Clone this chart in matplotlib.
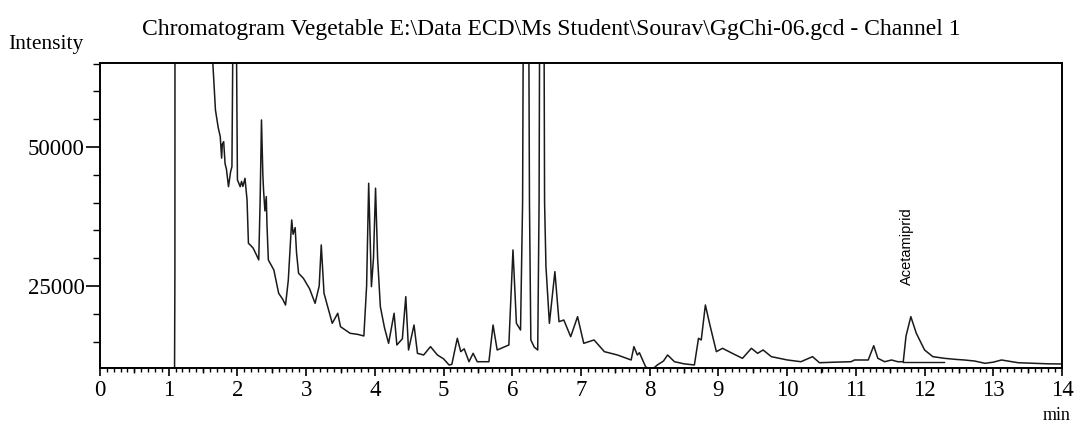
import numpy as np
import matplotlib
matplotlib.use('Agg')
import matplotlib.pyplot as plt
from matplotlib.ticker import MultipleLocator, FixedLocator

# Chromatogram trace (time in min, intensity)
time_min = [
    0.00, 1.080, 1.085, 1.090, 1.095, 1.30, 1.62, 1.68, 1.72, 1.75, 1.77, 1.78,
    1.80, 1.82, 1.84, 1.87, 1.90, 1.92, 1.935, 1.96, 1.985, 2.00, 2.02, 2.04,
    2.06, 2.08, 2.11, 2.13, 2.14, 2.16, 2.20, 2.23, 2.28, 2.31, 2.33, 2.35,
    2.37, 2.38, 2.40, 2.42, 2.43, 2.45, 2.53, 2.60, 2.66, 2.70, 2.74, 2.79,
    2.81, 2.84, 2.86, 2.89, 2.96, 3.05, 3.13, 3.19, 3.22, 3.26, 3.32, 3.38,
    3.46, 3.50, 3.64, 3.75, 3.84, 3.88, 3.91, 3.95, 3.98, 4.01, 4.04, 4.08,
    4.14, 4.20, 4.28, 4.32, 4.40, 4.45, 4.49, 4.57, 4.62, 4.71, 4.81, 4.91,
    5.00, 5.08, 5.12, 5.20, 5.25, 5.30, 5.37, 5.43, 5.49, 5.66, 5.72, 5.78,
    5.95, 6.01, 6.06, 6.12, 6.15, 6.20, 6.25, 6.27, 6.32, 6.37, 6.39, 6.43,
    6.47, 6.49, 6.54, 6.62, 6.68, 6.75, 6.85, 6.95, 7.04, 7.19, 7.34, 7.53,
    7.73, 7.77, 7.82, 7.85, 7.94, 8.02, 8.11, 8.20, 8.26, 8.36, 8.50, 8.65,
    8.71, 8.75, 8.81, 8.87, 8.97, 9.06, 9.20, 9.35, 9.48, 9.57, 9.65, 9.77,
    10.00, 10.20, 10.37, 10.47, 10.70, 10.93, 10.98, 11.18, 11.26, 11.32,
    11.42, 11.52, 11.61, 11.69, 11.73, 11.80, 11.88, 12.00, 12.12, 12.29,
    12.45, 12.58, 12.73, 12.88, 13.00, 13.12, 13.36, 13.60, 13.80, 14.02,
]
intensity = [
    10250, 10250, 10000, 27000, 200000, 300000, 70000, 56660, 53500, 51860,
    48000, 50500, 50960, 47000, 46000, 42860, 45500, 46460, 70000, 120000,
    70000, 44070, 43500, 42860, 43800, 42900, 44370, 41800, 40470, 32680,
    32200, 31780, 30500, 29680, 40000, 54860, 45000, 42270, 38500, 41070,
    36000, 29680, 27880, 23690, 22600, 21580, 26000, 36870, 34300, 35500,
    31000, 27280, 26380, 24500, 21890, 25000, 32380, 23690, 21000, 18290,
    20090, 17680, 16490, 16300, 16010, 25000, 43470, 24880, 30000, 42580,
    30000, 21280, 17500, 14690, 20090, 14390, 15500, 23080, 13490, 17980,
    12890, 12590, 14090, 12590, 11900, 10790, 10900, 15590, 13190, 13700,
    11380, 12890, 11380, 11380, 17980, 13490, 14390, 31480, 18290, 17080,
    40000, 200000, 40000, 15290, 14000, 13490, 40000, 200000, 40000, 28480,
    18290, 27580, 18580, 18880, 15880, 19480, 14690, 15290, 13190, 12590,
    11690, 14090, 12590, 13000, 10480, 9800, 10790, 11500, 12590, 11380,
    11000, 10790, 15590, 15290, 21580, 18290, 13190, 13790, 12900, 11990,
    13790, 12890, 13490, 12290, 11700, 11380, 12290, 11200, 11300, 11380,
    11690, 11690, 14260, 11990, 11380, 11690, 11380, 11380, 16000, 19480,
    16490, 13490, 12290, 11990, 11800, 11690, 11500, 11090, 11300, 11690,
    11200, 11100, 11000, 10970,
]

# integration baseline under the labelled peak
base_time = [11.69, 12.29]
base_level = [11380, 11380]
peak_name = 'Acetamiprid'
peak_time = 11.80

serif = 'Liberation Serif'

fig = plt.figure(figsize=(10.77, 4.24), dpi=100)
ax = fig.add_axes([100 / 1077, 56 / 424, 962 / 1077, 305 / 424])

ax.plot(time_min, intensity, color='#1a1a1a', linewidth=1.1)
ax.plot(base_time, base_level, color='#1a1a1a', linewidth=1.0)

ax.set_xlim(0, 14)
ax.set_ylim(10250, 65100)

for sp in ax.spines.values():
    sp.set_linewidth(1.4)

ax.xaxis.set_major_locator(MultipleLocator(1))
ax.xaxis.set_minor_locator(MultipleLocator(0.1))
ax.yaxis.set_major_locator(FixedLocator([25000, 50000]))
ax.yaxis.set_minor_locator(MultipleLocator(5000))

ax.tick_params(axis='x', which='major', direction='out', length=6, width=1.2,
               pad=3, labelsize=16.5)
ax.tick_params(axis='x', which='minor', direction='out', length=3, width=1.0)
ax.tick_params(axis='y', which='major', direction='out', length=10, width=1.2,
               pad=1, labelsize=16.5)
ax.tick_params(axis='y', which='minor', direction='out', length=5, width=1.0)
for lbl in ax.get_xticklabels() + ax.get_yticklabels():
    lbl.set_fontfamily(serif)

# slightly longer ticks at the half minutes (drawn below the axis)
for t in np.arange(0.5, 14, 1.0):
    ax.plot([t, t], [0, -0.015], transform=ax.get_xaxis_transform(), clip_on=False,
            color='black', linewidth=1.0, solid_capstyle='butt')

ax.text(peak_time - 0.05, 25200, peak_name, rotation=90, ha='center', va='bottom',
        fontsize=10.5, family='Liberation Sans')

fig.text(551 / 1077, 1 - 30 / 424,
         'Chromatogram Vegetable E:\\Data ECD\\Ms Student\\Sourav\\GgChi-06.gcd - Channel 1',
         ha='center', va='center', fontsize=17, family=serif)
fig.text(8 / 1077, 1 - 45 / 424, 'Intensity', ha='left', va='center',
         fontsize=15.5, family=serif)
fig.text(1057 / 1077, 1 - 416 / 424, 'min', ha='center', va='center',
         fontsize=13, family=serif)

fig.savefig('out.png', dpi=100)
